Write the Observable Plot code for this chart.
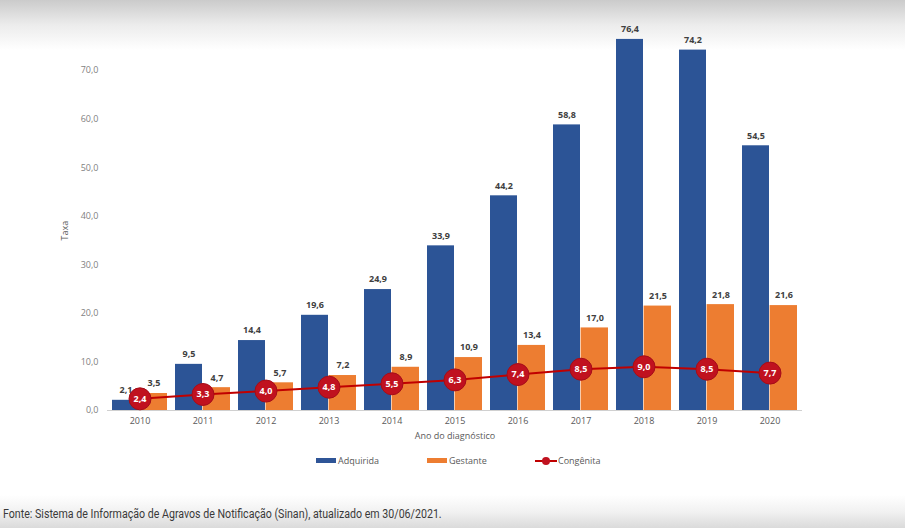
<!DOCTYPE html>
<html>
<head>
<meta charset="utf-8">
<script src="https://cdn.jsdelivr.net/npm/d3@7"></script>
<script src="https://cdn.jsdelivr.net/npm/@observablehq/plot@0.6"></script>
<style>
  html, body { margin: 0; padding: 0; }
  body {
    width: 905px; height: 528px; overflow: hidden;
    background: linear-gradient(to bottom, #cbcbcb 0px, #ececec 25px, #ffffff 50px, #ffffff 495px, #f1f1f1 512px, #dadada 528px);
    font-family: "Open Sans", sans-serif;
  }
  #wrap { position: relative; width: 905px; height: 528px; }
  #chart { position: absolute; left: 0; top: 0; }
  .legend { position: absolute; top: 454px; font-size: 9px; color: #595959; display: flex; align-items: center; }
  .sw { display: inline-block; width: 20px; height: 5px; margin-right: 2px; }
  #caption { position: absolute; left: 3px; top: 506px; font-family: "Roboto", sans-serif; font-size: 12.5px; color: #3a3a3a; white-space: nowrap; transform: scaleX(0.85); transform-origin: left center; }
</style>
</head>
<body>
<div id="wrap">
  <div id="chart"></div>
  <div class="legend" style="left:316px"><span class="sw" style="background:#2f5597"></span>Adquirida</div>
  <div class="legend" style="left:427px"><span class="sw" style="background:#ed7d31"></span>Gestante</div>
  <div class="legend" style="left:535px">
    <svg width="22" height="10" style="margin-right:1px"><line x1="0" y1="5" x2="22" y2="5" stroke="#c00000" stroke-width="2"/><circle cx="11" cy="5" r="4" fill="#c0111f"/></svg>Congênita
  </div>
  <div id="caption">Fonte: Sistema de Informação de Agravos de Notificação (Sinan), atualizado em 30/06/2021.</div>
</div>
<script>
const years = [2010, 2011, 2012, 2013, 2014, 2015, 2016, 2017, 2018, 2019, 2020];
const adquirida = [2.1, 9.5, 14.4, 19.6, 24.9, 33.9, 44.2, 58.8, 76.4, 74.2, 54.5];
const gestante = [3.5, 4.7, 5.7, 7.2, 8.9, 10.9, 13.4, 17.0, 21.5, 21.8, 21.6];
const congenita = [2.4, 3.3, 4.0, 4.8, 5.5, 6.3, 7.4, 8.5, 9.0, 8.5, 7.7];
const yTicks = [0, 10, 20, 30, 40, 50, 60, 70];

const data = years.map((y, i) => ({year: String(y), adq: adquirida[i], ges: gestante[i], con: congenita[i]}));
const fmt = d => d.toFixed(1).replace(".", ",");

const blue = "#2c5496", orange = "#ed7d31", red = "#c00000", dotFill = "#c0111f";

const chart = Plot.plot({
  width: 905,
  height: 528,
  marginLeft: 107,
  marginRight: 103,
  marginTop: 70,
  marginBottom: 118,
  style: {background: "transparent", fontFamily: "Open Sans, sans-serif"},
  x: {type: "band", domain: years.map(String), padding: 0},
  y: {domain: [0, 70]},
  marks: [
    Plot.ruleY(yTicks.slice(1), {stroke: "#e8e8e8", strokeWidth: 1, x1: 105, x2: 802}),
    Plot.axisY(yTicks, {tickSize: 0, tickPadding: 9, tickFormat: fmt, fontSize: 9, fill: "#7f7f7f", label: null}),
    Plot.axisX({tickSize: 0, tickPadding: 7, fontSize: 9, fill: "#595959", label: null}),
    Plot.barY(data, {x: "year", y: "adq", fill: blue, insetLeft: 4, insetRight: 32}),
    Plot.barY(data, {x: "year", y: "ges", fill: orange, insetLeft: 31.6, insetRight: 4}),
    Plot.ruleY([0], {stroke: "#d0d0d0", strokeWidth: 1}),
    Plot.text(data, {x: "year", y: "adq", text: d => fmt(d.adq), dx: -14, dy: -10, fontSize: 9, fontWeight: "bold", fill: "#404040"}),
    Plot.text(data, {x: "year", y: "ges", text: d => fmt(d.ges), dx: 14, dy: -10, fontSize: 9, fontWeight: "bold", fill: "#404040"}),
    Plot.line(data, {x: "year", y: "con", stroke: red, strokeWidth: 2}),
    Plot.dot(data, {x: "year", y: "con", r: 11, fill: dotFill, stroke: "#a50d18", strokeWidth: 1}),
    Plot.text(data, {x: "year", y: "con", text: d => fmt(d.con), fontSize: 9, fontWeight: "bold", fill: "white"}),
    Plot.text(["Taxa"], {frameAnchor: "left", dx: -42, rotate: -90, fontSize: 9, fill: "#595959"}),
    Plot.text(["Ano do diagnóstico"], {frameAnchor: "bottom", dy: 28, fontSize: 9, fill: "#595959"})
  ]
});
document.getElementById("chart").appendChild(chart);
</script>
</body>
</html>
